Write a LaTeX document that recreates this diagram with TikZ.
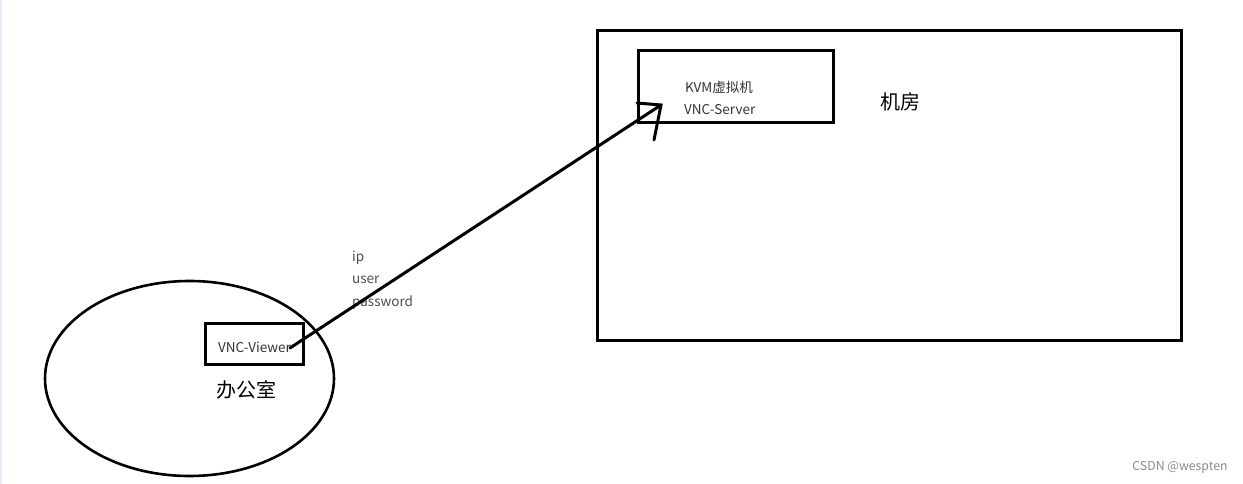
\documentclass[tikz,border=0pt]{standalone}
\usepackage{fontspec}
\setmainfont{Noto Sans CJK SC}
\usetikzlibrary{shapes.geometric}
\tikzset{
  boxed/.style={draw, line width=3pt, inner sep=0pt, outer sep=0pt, anchor=north west},
  small/.style={font=\fontsize{13.5}{16}\selectfont, text=black!80, inner sep=0pt, anchor=west},
  big/.style={font=\fontsize{20}{23}\selectfont, text=black, inner sep=0pt},
  conn/.style={line width=3pt, line cap=round}
}
\begin{document}
\begin{tikzpicture}[x=1pt,y=-1pt]
\useasboundingbox (0,0) rectangle (1243,484);
\fill[white] (0,0) rectangle (1243,484);
\fill[blue!8] (0,0) rectangle (2,484);
% machine room
\node[boxed, minimum width=584pt, minimum height=309pt] (room) at (597,31) {};
\node[boxed, minimum width=195pt, minimum height=72pt] (kvm) at (638,51) {};
\node[small, anchor=center] (kvmt) at (719,87) {KVM虚拟机};
\node[small] (vncs) at (684,110) {VNC-Server};
\node[big] (jf) at (900,102) {机房};
% office
\node[draw, ellipse, line width=2.6pt, minimum width=289pt, minimum height=195pt, inner sep=0pt] (office) at (189.5,378.5) {};
\node[boxed, minimum width=98pt, minimum height=41pt] (viewer) at (205,323) {};
\node[small] (vncv) at (218,347) {VNC-Viewer};
\node[big] (bgs) at (246,390) {办公室};
% labels
\node[small, text=black!70] (ip) at (352,258) {ip};
\node[small, text=black!70] (user) at (352,280) {user};
\node[small, text=black!70] (pw) at (352,303) {password};
% arrow
\coordinate (start) at (290,348);
\coordinate (tip) at (661,105);
\coordinate (barbl) at (637,103);
\coordinate (barbd) at (654,140);
\draw[conn] (start) -- (tip);
\draw[conn] (barbl) -- (tip) -- (barbd);
% watermark
\node[font=\fontsize{12.3}{14}\selectfont, text=black!45, inner sep=0pt] (wm) at (1180,467) {CSDN @wespten};
\end{tikzpicture}
\end{document}
